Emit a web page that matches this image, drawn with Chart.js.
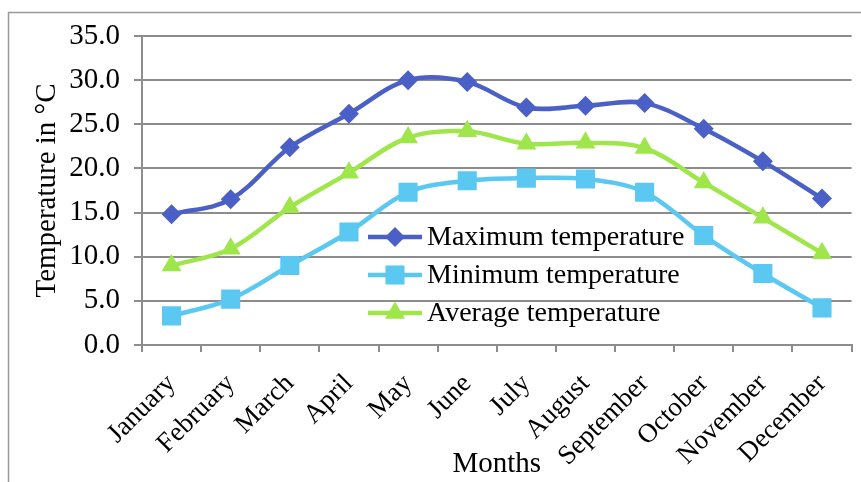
<!DOCTYPE html>
<html>
<head>
<meta charset="utf-8">
<script src="https://cdn.jsdelivr.net/npm/chart.js@4/dist/chart.umd.min.js"></script>
<style>
  html,body{margin:0;padding:0;background:#fff;}
  canvas{display:block;}
</style>
</head>
<body>
<canvas id="temps" width="861" height="482"></canvas>
<script>
const months = ["January","February","March","April","May","June","July","August","September","October","November","December"]
const maxTemp = [14.8,16.5,22.4,26.2,30.0,29.8,26.9,27.1,27.4,24.5,20.8,16.6]
const minTemp = [3.3,5.2,9.0,12.8,17.3,18.6,18.9,18.8,17.3,12.4,8.1,4.2]
const avgTemp = [9.0,10.9,15.6,19.5,23.5,24.2,22.8,22.9,22.3,18.4,14.4,10.4]
const seriesNames = ["Maximum temperature","Minimum temperature","Average temperature"]

const serif = "'Liberation Serif','Times New Roman',serif"
const gridGrey = "#8c8c8c"

function dataset(label,data,color,pointStyle,radius){
  return {
    label, data,
    borderColor:color, backgroundColor:color,
    borderWidth:4.5, tension:0.35,
    pointStyle, pointRadius:radius, pointHoverRadius:radius,
    pointBorderWidth:0
  }
}

// frame round the whole chart (only left and top edges are in view)
const framePlugin={
  id:"frame",
  beforeDraw(chart){
    const ctx=chart.ctx
    ctx.save()
    ctx.strokeStyle="#9a9a9a"
    ctx.lineWidth=1.5
    ctx.strokeRect(8.5,12.5,1000,1000)
    ctx.restore()
  }
}

// legend sits inside the plot area, like in the original
const innerLegend={
  id:"innerLegend",
  afterDatasetsDraw(chart){
    const ctx=chart.ctx
    ctx.save()
    const x0=368, x1=422, tx=427
    const rows=[237,275,313]
    chart.data.datasets.forEach((ds,i)=>{
      const y=rows[i]
      ctx.strokeStyle=ds.borderColor
      ctx.lineWidth=4.5
      ctx.beginPath(); ctx.moveTo(x0,y); ctx.lineTo(x1,y); ctx.stroke()
      ctx.fillStyle=ds.backgroundColor
      Chart.helpers.drawPoint(ctx,{pointStyle:ds.pointStyle,radius:ds.pointRadius,rotation:0,borderWidth:0},(x0+x1)/2,y)
      ctx.fillStyle="#000"
      ctx.font="28px "+serif
      ctx.textBaseline="middle"
      ctx.textAlign="left"
      ctx.fillText(ds.label,tx,y+1)
    })
    ctx.restore()
  }
}

new Chart(document.getElementById("temps"),{
  type:"line",
  data:{
    labels:months,
    datasets:[
      dataset(seriesNames[0],maxTemp,"#4a60c6","rectRot",10),
      dataset(seriesNames[1],minTemp,"#5ac8f0","rect",13.5),
      dataset(seriesNames[2],avgTemp,"#9fe64b","triangle",11.5)
    ]
  },
  options:{
    responsive:false,
    animation:false,
    devicePixelRatio:1,
    layout:{autoPadding:false,padding:{top:36,right:2,left:0,bottom:0}},
    plugins:{legend:{display:false},tooltip:{enabled:false}},
    scales:{
      x:{
        offset:true,
        grid:{offset:true,drawOnChartArea:false,drawTicks:true,tickLength:7,color:gridGrey,lineWidth:2},
        border:{display:true,color:gridGrey,width:2},
        ticks:{color:"#000",font:{family:serif,size:27},maxRotation:45,minRotation:45,padding:16,autoSkip:false},
        title:{display:true,text:"Months",color:"#000",font:{family:serif,size:29},padding:{top:0,bottom:0}},
        afterFit(scale){scale.height=137}
      },
      y:{
        min:0,max:35,
        grid:{color:gridGrey,lineWidth:2,tickLength:8},
        border:{display:true,color:gridGrey,width:2},
        ticks:{stepSize:5,color:"#000",font:{family:serif,size:29},padding:14,callback:v=>v.toFixed(1)},
        title:{display:true,text:"Temperature in °C",color:"#000",font:{family:serif,size:29},padding:{top:30,bottom:0}},
        afterFit(scale){scale.width=142}
      }
    }
  },
  plugins:[framePlugin,innerLegend]
})
</script>
</body>
</html>
